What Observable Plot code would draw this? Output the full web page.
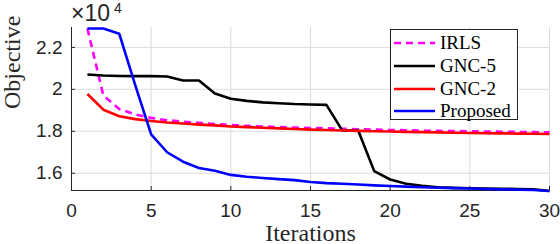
<!DOCTYPE html>
<html>
<head>
<meta charset="utf-8">
<script src="https://cdn.jsdelivr.net/npm/d3@7"></script>
<script src="https://cdn.jsdelivr.net/npm/@observablehq/plot@0.6"></script>
<style>
  body { margin: 0; background: #fff; }
  #wrap { position: relative; width: 560px; height: 244px; overflow: hidden; }
  #exp { position: absolute; left: 71px; top: 0px; width: 60px; height: 26px; font-family: "Liberation Sans", Arial, sans-serif; color: #262626; white-space: nowrap; }
  #exp .base { position: absolute; left: 0; top: 2px; font-size: 23px; line-height: 23px; }
  #exp .pow { position: absolute; left: 43px; top: 1px; font-size: 14px; line-height: 14px; }
  #legend { position: absolute; left: 390px; top: 29px; width: 128px; height: 91px; box-sizing: border-box; border: 1px solid #262626; background: #fff; font-family: "Liberation Serif", "Times New Roman", serif; font-size: 19px; color: #000; }
  .row { position: absolute; left: 2px; height: 22px; display: flex; align-items: center; white-space: nowrap; }
  .row svg { margin-right: 5px; }
</style>
</head>
<body>
<div id="wrap">
  <div id="chart"></div>
  <div id="exp"><span class="base">×10</span><span class="pow">4</span></div>
  <div id="legend"></div>
</div>
<script>
// Data (objective values in units of 10^4)
const iterations = [1,2,3,4,5,6,7,8,9,10,11,12,13,14,15,16,17,18,19,20,21,22,23,24,25,26,27,28,29,30];
const irls = [2.29,1.97,1.906,1.880,1.864,1.853,1.846,1.840,1.835,1.830,1.826,1.823,1.820,1.818,1.816,1.814,1.812,1.810,1.808,1.806,1.805,1.803,1.802,1.801,1.800,1.799,1.798,1.797,1.796,1.795];
const gnc5 = [2.071,2.066,2.064,2.063,2.063,2.061,2.042,2.042,1.980,1.955,1.945,1.938,1.934,1.930,1.928,1.926,1.803,1.803,1.610,1.570,1.550,1.540,1.533,1.530,1.528,1.527,1.526,1.525,1.523,1.515];
const gnc2 = [1.978,1.903,1.872,1.858,1.849,1.842,1.837,1.832,1.828,1.823,1.820,1.817,1.814,1.811,1.808,1.806,1.804,1.802,1.800,1.799,1.797,1.796,1.795,1.793,1.792,1.791,1.790,1.789,1.788,1.787];
const proposed = [2.29,2.29,2.265,2.020,1.785,1.700,1.655,1.625,1.612,1.592,1.583,1.577,1.572,1.567,1.558,1.553,1.550,1.546,1.542,1.539,1.536,1.533,1.531,1.529,1.527,1.525,1.523,1.522,1.520,1.515];
const seriesNames = ["IRLS", "GNC-5", "GNC-2", "Proposed"];
const xTicks = [0,5,10,15,20,25,30];
const yTicks = [1.6,1.8,2,2.2];
const yTickLabels = ["1.6","1.8","2","2.2"];

const styles = {
  "IRLS": {stroke: "#ff00ff", dash: "7,5"},
  "GNC-5": {stroke: "#000000", dash: null},
  "GNC-2": {stroke: "#ff0000", dash: null},
  "Proposed": {stroke: "#0000ff", dash: null}
};
const seriesValues = [irls, gnc5, gnc2, proposed];
const rows = seriesNames.map((name, k) => iterations.map((it, i) => ({series: name, it, v: seriesValues[k][i]})));

const xDomain = [0, 30];
const yDomain = [1.5176, 2.295];
const tickFont = "'Liberation Sans', Arial, sans-serif";
const serif = "'Liberation Serif', 'Times New Roman', serif";

const chart = Plot.plot({
  width: 560,
  height: 244,
  marginLeft: 71,
  marginRight: 11,
  marginTop: 27,
  marginBottom: 54,
  style: {background: "#fff", overflow: "visible"},
  x: {domain: xDomain},
  y: {domain: yDomain},
  marks: [
    Plot.gridX(xTicks, {stroke: "#dcdcdc", strokeOpacity: 1, strokeWidth: 1}),
    Plot.gridY(yTicks, {stroke: "#dcdcdc", strokeOpacity: 1, strokeWidth: 1}),
    Plot.axisX({ticks: xTicks, tickSize: -4, tickPadding: 17, fontSize: 19, fontFamily: tickFont, fill: "#262626", stroke: "#262626", label: null}),
    Plot.axisY({ticks: yTicks, tickFormat: (d) => yTickLabels[yTicks.indexOf(d)], tickSize: -4, tickPadding: 13, fontSize: 19, fontFamily: tickFont, fill: "#262626", stroke: "#262626", label: null}),
    Plot.ruleX([xDomain[0]], {stroke: "#262626", strokeWidth: 1}),
    Plot.ruleY([yDomain[0]], {stroke: "#262626", strokeWidth: 1}),
    ...rows.map((data, k) => Plot.line(data, {
      x: "it", y: "v",
      stroke: styles[seriesNames[k]].stroke,
      strokeDasharray: styles[seriesNames[k]].dash,
      strokeWidth: 2.6,
      strokeLinejoin: "round",
      strokeLinecap: "butt"
    })),
    Plot.text(["Iterations"], {frameAnchor: "bottom", dy: 50, lineAnchor: "bottom", fontSize: 24, fontFamily: serif, fill: "#262626"}),
    Plot.text(["Objective"], {frameAnchor: "left", dx: -69, rotate: -90, lineAnchor: "top", fontSize: 24, fontFamily: serif, fill: "#262626"})
  ]
});
document.getElementById("chart").appendChild(chart);

// Legend
const legend = document.getElementById("legend");
const rowTops = [2, 25, 48, 70];
seriesNames.forEach((name, k) => {
  const row = document.createElement("div");
  row.className = "row";
  row.style.top = rowTops[k] + "px";
  const st = styles[name];
  row.innerHTML = `<svg width="42" height="6"><line x1="1" y1="3" x2="42" y2="3" stroke="${st.stroke}" stroke-width="2.6" ${st.dash ? `stroke-dasharray="${st.dash}"` : ""}/></svg><span>${name}</span>`;
  legend.appendChild(row);
});
</script>
</body>
</html>
